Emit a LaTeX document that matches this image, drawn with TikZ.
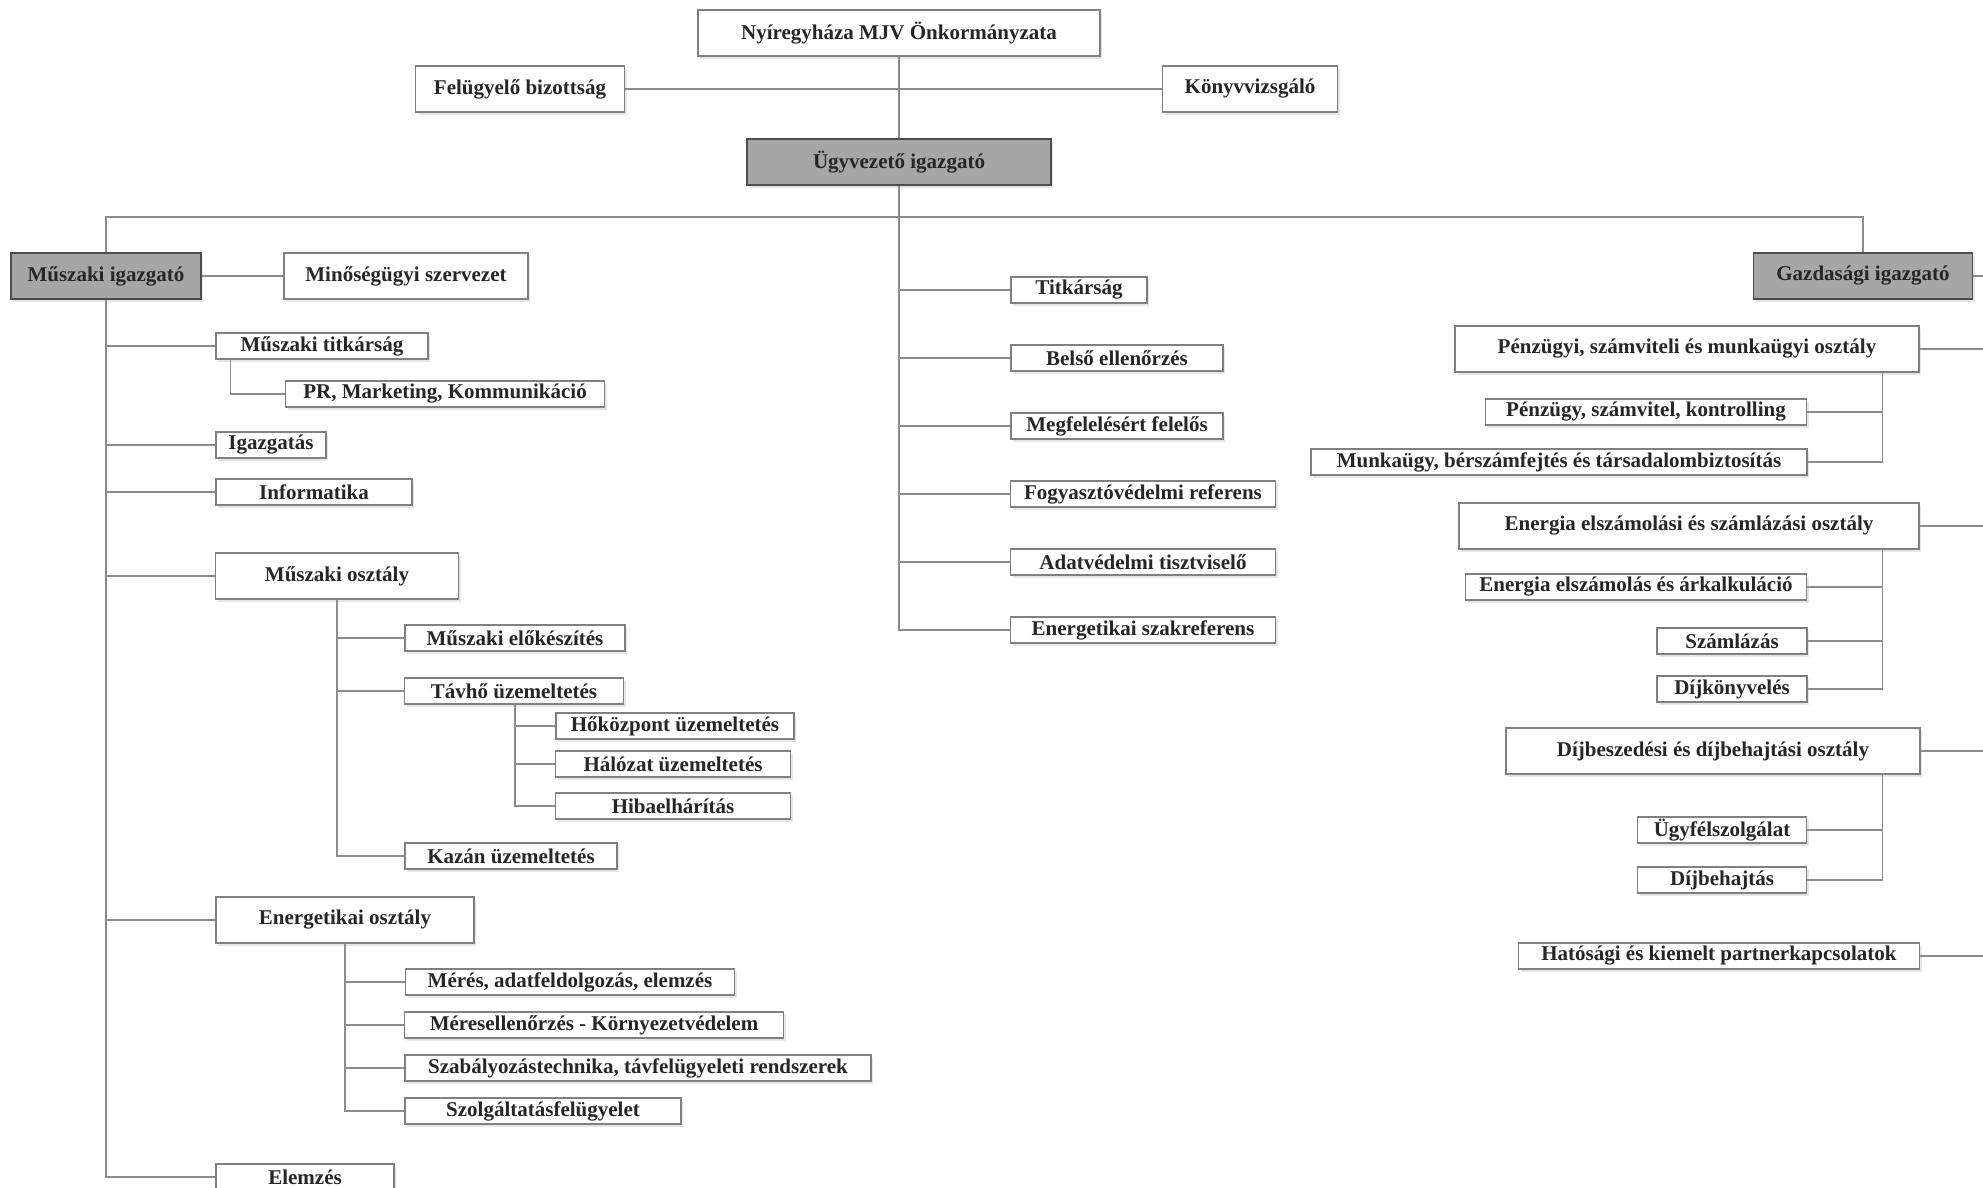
\documentclass[tikz,border=0pt]{standalone}
\usepackage{fontspec}
\setmainfont{Liberation Serif}
\usetikzlibrary{shadows}
\definecolor{linegray}{RGB}{140,140,140}
\definecolor{boxgray}{RGB}{128,128,128}
\definecolor{headfill}{RGB}{166,166,166}
\definecolor{txt}{RGB}{38,38,38}
\begin{document}
\begin{tikzpicture}[x=1pt,y=-1pt,
    box/.style={draw=boxgray,line width=1.3pt,fill=white,inner sep=0pt,
      minimum height=26pt,text=txt,font=\fontsize{21}{25}\selectfont\bfseries,
      drop shadow={shadow xshift=2pt,shadow yshift=-3pt,opacity=0.25,fill=black!40}},
    bigbox/.style={box,minimum height=46pt},
    headbox/.style={bigbox,fill=headfill,draw=black!70,line width=1.6pt},
    conn/.style={draw=linegray,line width=1.3pt}]
    \useasboundingbox (0,0) rectangle (1983,1188);
    \fill[white] (0,0) rectangle (1983,1188);

    % felso szint
    \node (onk) at (899,33) [bigbox,minimum width=402pt] {Nyíregyháza MJV Önkormányzata};
    \node (felb) at (520,89) [bigbox,minimum width=209pt] {Felügyelő bizottság};
    \node (konyv) at (1250,89) [bigbox,minimum width=175pt] {Könyvvizsgáló};
    \node (ugyv) at (899,162) [headbox,minimum width=304pt] {Ügyvezető igazgató};
    \coordinate (bus) at (899,217);

    % muszaki ag
    \node (muszig) at (106,276) [headbox,minimum width=190pt] {Műszaki igazgató};
    \node (minos) at (406,276) [bigbox,minimum width=244pt] {Minőségügyi szervezet};
    \node (musztitk) at (322,346) [box,minimum width=212pt] {Műszaki titkárság};
    \node (pr) at (445,394) [box,minimum width=319pt] {PR, Marketing, Kommunikáció};
    \node (igazg) at (271,445) [box,minimum width=110pt] {Igazgatás};
    \node (inform) at (314,492) [box,minimum width=196pt] {Informatika};

    \node (muszo) at (337,576) [bigbox,minimum width=243pt] {Műszaki osztály};
    \node (elok) at (515,638) [box,minimum width=220pt] {Műszaki előkészítés};
    \node (tavho) at (514,691) [box,minimum width=219pt] {Távhő üzemeltetés};
    \node (hokozp) at (675,726) [box,minimum width=238pt] {Hőközpont üzemeltetés};
    \node (halozat) at (673,764) [box,minimum width=235pt] {Hálózat üzemeltetés};
    \node (hiba) at (673,806) [box,minimum width=235pt] {Hibaelhárítás};
    \node (kazan) at (511,856) [box,minimum width=212pt] {Kazán üzemeltetés};

    \node (energo) at (345,920) [bigbox,minimum width=258pt] {Energetikai osztály};
    \node (meres) at (570,982) [box,minimum width=329pt] {Mérés, adatfeldolgozás, elemzés};
    \node (merell) at (594,1025) [box,minimum width=379pt] {Méresellenőrzés - Környezetvédelem};
    \node (szabt) at (638,1068) [box,minimum width=466pt] {Szabályozástechnika, távfelügyeleti rendszerek};
    \node (szolg) at (543,1111) [box,minimum width=276pt] {Szolgáltatásfelügyelet};
    \node (elemz) at (305,1177) [box,minimum width=178pt] {Elemzés};

    % ugyvezeto alatt
    \node (titk) at (1079,290) [box,minimum width=136pt] {Titkárság};
    \node (belso) at (1117,358) [box,minimum width=212pt] {Belső ellenőrzés};
    \node (megf) at (1117,426) [box,minimum width=212pt] {Megfelelésért felelős};
    \node (fogy) at (1143,494) [box,minimum width=265pt] {Fogyasztóvédelmi referens};
    \node (adatv) at (1143,562) [box,minimum width=265pt] {Adatvédelmi tisztviselő};
    \node (energsz) at (1143,630) [box,minimum width=265pt] {Energetikai szakreferens};

    % gazdasagi ag
    \node (gazdig) at (1863,276) [headbox,minimum width=219pt] {Gazdasági igazgató};
    \node (penzo) at (1687,349) [bigbox,minimum width=464pt] {Pénzügyi, számviteli és munkaügyi osztály};
    \node (penzugy) at (1646,412) [box,minimum width=321pt] {Pénzügy, számvitel, kontrolling};
    \node (munka) at (1559,462) [box,minimum width=496pt] {Munkaügy, bérszámfejtés és társadalombiztosítás};
    \node (elszo) at (1689,526) [bigbox,minimum width=460pt] {Energia elszámolási és számlázási osztály};
    \node (arkalk) at (1636,587) [box,minimum width=341pt] {Energia elszámolás és árkalkuláció};
    \node (szaml) at (1732,641) [box,minimum width=150pt] {Számlázás};
    \node (dijk) at (1732,689) [box,minimum width=150pt] {Díjkönyvelés};
    \node (dijbo) at (1713,751) [bigbox,minimum width=414pt] {Díjbeszedési és díjbehajtási osztály};
    \node (ugyf) at (1722,830) [box,minimum width=169pt] {Ügyfélszolgálat};
    \node (dijb) at (1722,880) [box,minimum width=169pt] {Díjbehajtás};
    \node (hatos) at (1719,956) [box,minimum width=401pt] {Hatósági és kiemelt partnerkapcsolatok};

    \coordinate (e1) at (1983,276);
    \coordinate (e2) at (1983,349);
    \coordinate (e3) at (1983,526);
    \coordinate (e4) at (1983,751);
    \coordinate (e5) at (1983,956);

    \draw[conn] (onk) -- (ugyv);
    \draw[conn] (felb) -- (konyv);
    \draw[conn] (muszig) |- (bus) -| (gazdig);
    \draw[conn] (muszig) -- (minos);

    \draw[conn] (ugyv.south) |- (titk.west);
    \draw[conn] (ugyv.south) |- (belso.west);
    \draw[conn] (ugyv.south) |- (megf.west);
    \draw[conn] (ugyv.south) |- (fogy.west);
    \draw[conn] (ugyv.south) |- (adatv.west);
    \draw[conn] (ugyv.south) |- (energsz.west);

    \draw[conn] (muszig.south) |- (musztitk.west);
    \draw[conn] ([xshift=15pt]musztitk.south west) |- (pr.west);
    \draw[conn] (muszig.south) |- (igazg.west);
    \draw[conn] (muszig.south) |- (inform.west);
    \draw[conn] (muszig.south) |- (muszo.west);
    \draw[conn] (muszig.south) |- (energo.west);
    \draw[conn] (muszig.south) |- (elemz.west);

    \draw[conn] (muszo.south) |- (elok.west);
    \draw[conn] (muszo.south) |- (tavho.west);
    \draw[conn] (muszo.south) |- (kazan.west);
    \draw[conn] ([xshift=1pt]tavho.south) |- (hokozp.west);
    \draw[conn] ([xshift=1pt]tavho.south) |- (halozat.west);
    \draw[conn] ([xshift=1pt]tavho.south) |- (hiba.west);

    \draw[conn] (energo.south) |- (meres.west);
    \draw[conn] (energo.south) |- (merell.west);
    \draw[conn] (energo.south) |- (szabt.west);
    \draw[conn] (energo.south) |- (szolg.west);

    \draw[conn] (gazdig) -- (e1);
    \draw[conn] (penzo) -- (e2);
    \draw[conn] (elszo) -- (e3);
    \draw[conn] (dijbo) -- (e4);
    \draw[conn] (hatos) -- (e5);

    \draw[conn] ([xshift=-37pt]penzo.south east) |- (penzugy.east);
    \draw[conn] ([xshift=-37pt]penzo.south east) |- (munka.east);
    \draw[conn] ([xshift=-37pt]elszo.south east) |- (arkalk.east);
    \draw[conn] ([xshift=-37pt]elszo.south east) |- (szaml.east);
    \draw[conn] ([xshift=-37pt]elszo.south east) |- (dijk.east);
    \draw[conn] ([xshift=-38pt]dijbo.south east) |- (ugyf.east);
    \draw[conn] ([xshift=-38pt]dijbo.south east) |- (dijb.east);
\end{tikzpicture}
\end{document}
